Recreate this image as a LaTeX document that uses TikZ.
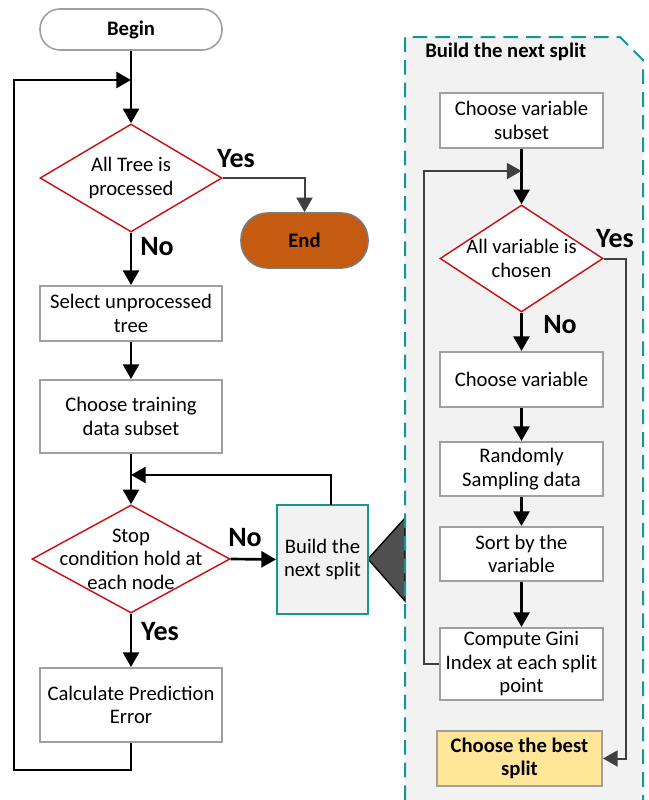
\documentclass[tikz,border=0pt]{standalone}
\usepackage{fontspec}
\setmainfont{Carlito}
\usetikzlibrary{arrows.meta,shapes.geometric,calc}
\definecolor{boxgray}{RGB}{160,160,160}
\definecolor{dred}{RGB}{200,20,20}
\definecolor{tealc}{RGB}{25,150,145}
\definecolor{panelbg}{RGB}{242,242,242}
\definecolor{endorange}{RGB}{197,90,17}
\definecolor{bestyellow}{RGB}{255,230,153}
\definecolor{darkline}{RGB}{64,64,64}
\definecolor{trigray}{RGB}{80,80,80}
\newcommand\pu{0.75pt}
\begin{document}
\begin{tikzpicture}[x=0.75pt,y=-0.75pt,
  txt/.style={font=\fontsize{15.5}{17.6}\selectfont, align=center},
  procbox/.style={txt, draw=boxgray, line width=1.5pt, fill=white, inner sep=0pt},
  decision/.style={diamond, draw=dred, line width=1.1pt, fill=white, inner sep=0pt},
  yn/.style={font=\bfseries\fontsize{21}{24}\selectfont, inner sep=0pt},
  arr/.style={line width=2pt, -{Triangle[width=12pt,length=11pt]}},
  grayarr/.style={line width=1.5pt, draw=darkline, -{Triangle[width=12pt,length=11pt]}},
]
\useasboundingbox (0,0) rectangle (649,800);
\fill[white] (0,0) rectangle (649,800);

% panel
\fill[panelbg] (405,800) -- (405,37) -- (620,37) -- (643,60) -- (643,800) -- cycle;
\draw[fill=trigray, line width=1pt] (368,559) -- (405,518) -- (405,601) -- cycle;
\draw[tealc, line width=1.5pt, dash pattern=on 11pt off 6pt] (405,800) -- (405,37) -- (620,37) -- (643,60) -- (643,800);
\node[font=\bfseries\fontsize{15.5}{18}\selectfont, anchor=west, inner sep=0pt] (ptitle) at (425,52) {Build the next split};

% left flow
\node[txt, draw=boxgray, line width=1.2pt, fill=white, rounded corners=15pt, minimum width=182*\pu, minimum height=41*\pu, inner sep=0pt] (begin) at (131,29.5) {\bfseries Begin};
\node[decision, minimum width=182*\pu, minimum height=108*\pu, label={[txt]center:{All Tree is\\processed}}] (d1) at (131,178) {};
\node[txt, draw=darkline!70, line width=1.2pt, fill=endorange, rounded corners=20pt, minimum width=127*\pu, minimum height=55*\pu, inner sep=0pt] (end) at (304.5,240.5) {\bfseries End};
\node[procbox, minimum width=182*\pu, minimum height=55*\pu] (sel) at (131,313.5) {Select unprocessed\\tree};
\node[procbox, minimum width=182*\pu, minimum height=73*\pu] (ctr) at (131,416.5) {Choose training\\data subset};
\node[decision, minimum width=198*\pu, minimum height=108*\pu, label={[txt]center:{Stop\\condition hold at\\each node}}] (d2) at (131,559) {};
\node[txt, draw=tealc, line width=1.5pt, fill=panelbg, minimum width=91*\pu, minimum height=109*\pu, inner sep=0pt] (build) at (322.5,559.5) {Build the\\next split};
\node[procbox, minimum width=182*\pu, minimum height=74*\pu] (calc) at (131,705) {Calculate Prediction\\Error};

% right flow
\node[procbox, minimum width=163*\pu, minimum height=55*\pu] (cvs) at (521.5,120.5) {Choose variable\\subset};
\node[decision, minimum width=163*\pu, minimum height=107*\pu, label={[txt]center:{All variable is\\chosen}}] (d3) at (521.5,258.5) {};
\node[procbox, minimum width=163*\pu, minimum height=55*\pu] (cv) at (521.5,379.5) {Choose variable};
\node[procbox, minimum width=163*\pu, minimum height=54*\pu] (rs) at (521.5,469) {Randomly\\Sampling data};
\node[procbox, minimum width=163*\pu, minimum height=54*\pu] (sort) at (521.5,554) {Sort by the\\variable};
\node[procbox, minimum width=163*\pu, minimum height=72*\pu] (gini) at (521.5,664) {Compute Gini\\Index at each split\\point};
\node[procbox, fill=bestyellow, minimum width=165*\pu, minimum height=55*\pu] (best) at (519.5,758.5) {\bfseries Choose the best\\\bfseries split};

% labels
\node[yn] (yes1) at (236,159) {Yes};
\node[yn] (no1) at (157,247) {No};
\node[yn] (no2) at (245,538) {No};
\node[yn] (yes2) at (160,632) {Yes};
\node[yn] (yes3) at (615,239) {Yes};
\node[yn] (no3) at (560,325) {No};

% coordinates
\coordinate (j1) at (131,80);
\coordinate (lp1) at (14,770);
\coordinate (lp2) at (14,80);
\coordinate (j2) at (131,475);
\coordinate (fb) at (331,505);
\coordinate (j3) at (521.5,171);
\coordinate (lp3) at (424,664);
\coordinate (yr) at (626,258.5);

% left connectors
\draw[arr] (begin.south) -- (d1.north);
\draw[arr] (calc.south) |- (lp1) -- (lp2) -- (j1);
\draw[grayarr] (d1.east) -| (end.north);
\draw[arr] (d1.south) -- (sel.north);
\draw[arr] (sel.south) -- (ctr.north);
\draw[arr] (ctr.south) -- (d2.north);
\draw[arr] (fb) |- (j2);
\draw[arr] (d2.east) -- (build.west);
\draw[arr] (d2.south) -- (calc.north);

% right connectors
\draw[arr] (cvs.south) -- (d3.north);
\draw[grayarr] (gini.west) -- (lp3) |- (j3);
\draw[grayarr] (d3.east) -- (yr) |- (best.east);
\draw[arr] (d3.south) -- (cv.north);
\draw[arr] (cv.south) -- (rs.north);
\draw[arr] (rs.south) -- (sort.north);
\draw[arr] (sort.south) -- (gini.north);
\end{tikzpicture}
\end{document}
